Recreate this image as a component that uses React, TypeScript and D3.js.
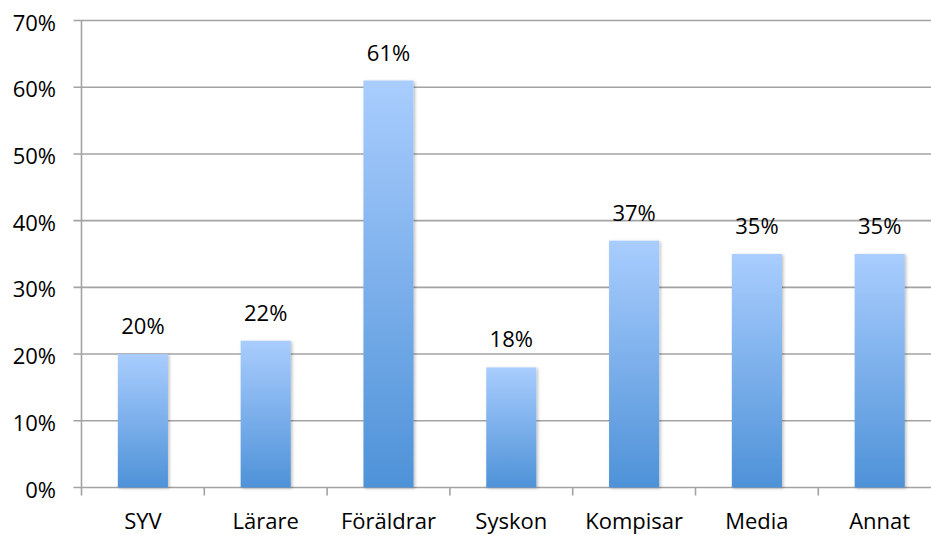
import React from "react";
import * as d3 from "d3";

const categories = ["SYV", "Lärare", "Föräldrar", "Syskon", "Kompisar", "Media", "Annat"];
const values = [0.2, 0.22, 0.61, 0.18, 0.37, 0.35, 0.35];
const yTicks = [0, 0.1, 0.2, 0.3, 0.4, 0.5, 0.6, 0.7];

export default function App() {
  const W = 931, H = 535;
  const left = 81.5, top = 20.5, bottom = 487.5;
  const band = 122.8;
  const x = d3.scaleBand<string>().domain(categories).range([left, left + band * categories.length]).paddingInner(0.592).paddingOuter(0.296);
  const y = d3.scaleLinear().domain([0, 0.7]).range([bottom, top]);
  const fmt = d3.format(".0%");
  const font = "'Open Sans', sans-serif";
  return (
    <svg width={W} height={H} style={{ position: "absolute", left: 0, top: 0 }}>
      <defs>
        <linearGradient id="barGrad" x1="0" y1="0" x2="0" y2="1">
          <stop offset="0%" stopColor="#a9cdfe" />
          <stop offset="100%" stopColor="#4e92d8" />
        </linearGradient>
        <filter id="shadow" x="-20%" y="-5%" width="140%" height="110%">
          <feDropShadow dx="1.5" dy="1" stdDeviation="1.5" floodColor="#000" floodOpacity="0.25" />
        </filter>
      </defs>
      <rect width={W} height={H} fill="#fff" />
      {yTicks.map((t) => (
        <g key={t}>
          <line x1={left - 8} x2={W} y1={y(t)} y2={y(t)} stroke="#a3a3a3" strokeWidth={1.6} />
          <text x={56} y={y(t) + 10} textAnchor="end" fontFamily={font} fontSize={22} fill="#000">{fmt(t)}</text>
        </g>
      ))}
      <line x1={left} x2={left} y1={top} y2={bottom + 8} stroke="#a3a3a3" strokeWidth={1.6} />
      {categories.map((c, i) => (
        <line key={"tk" + c} x1={left + band * (i + 1)} x2={left + band * (i + 1)} y1={bottom} y2={bottom + 8} stroke="#a3a3a3" strokeWidth={1.6} />
      ))}
      {categories.map((c, i) => (
        <g key={c}>
          <rect x={x(c)} y={y(values[i])} width={x.bandwidth()} height={bottom - y(values[i])} fill="url(#barGrad)" filter="url(#shadow)" />
          <text x={(x(c) as number) + x.bandwidth() / 2} y={y(values[i]) - 20} textAnchor="middle" fontFamily={font} fontSize={22} fill="#000">{fmt(values[i])}</text>
          <text x={(x(c) as number) + x.bandwidth() / 2} y={529} textAnchor="middle" fontFamily={font} fontSize={22} fill="#000">{c}</text>
        </g>
      ))}
    </svg>
  );
}
